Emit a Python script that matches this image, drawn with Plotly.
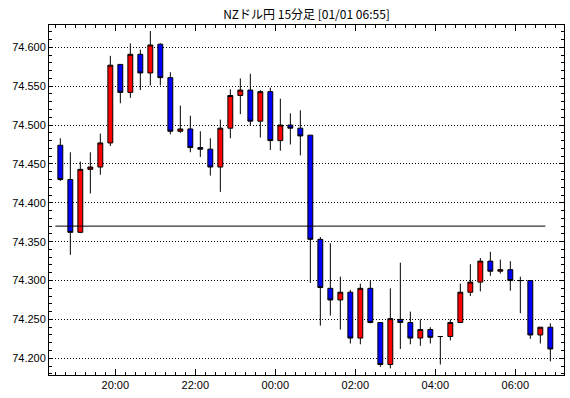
import pandas as pd
import plotly.graph_objects as go

title_text = "NZドル円 15分足 [01/01 06:55]"
first_bar = "2024-12-31 18:30"
n_bars = 50
bar_minutes = 15

open_ = [74.474, 74.430, 74.362, 74.443, 74.446, 74.477, 74.578, 74.542, 74.591, 74.567,
         74.604, 74.561, 74.492, 74.495, 74.471, 74.469, 74.446, 74.496, 74.538, 74.545,
         74.505, 74.543, 74.480, 74.500, 74.496, 74.487, 74.353, 74.290, 74.275, 74.285,
         74.226, 74.290, 74.246, 74.192, 74.250, 74.246, 74.226, 74.237, 74.228, 74.228,
         74.246, 74.285, 74.298, 74.325, 74.312, 74.314, 74.300, 74.300, 74.230, 74.240]
high = [74.483, 74.465, 74.453, 74.465, 74.489, 74.589, 74.578, 74.605, 74.597, 74.621,
        74.605, 74.568, 74.525, 74.512, 74.492, 74.483, 74.507, 74.546, 74.560, 74.566,
        74.545, 74.548, 74.534, 74.515, 74.519, 74.487, 74.356, 74.348, 74.305, 74.288,
        74.296, 74.300, 74.246, 74.290, 74.323, 74.260, 74.250, 74.240, 74.228, 74.250,
        74.296, 74.321, 74.329, 74.337, 74.327, 74.325, 74.305, 74.300, 74.240, 74.245]
low = [74.428, 74.333, 74.361, 74.412, 74.436, 74.473, 74.528, 74.535, 74.545, 74.551,
       74.551, 74.488, 74.490, 74.465, 74.459, 74.435, 74.414, 74.483, 74.514, 74.499,
       74.484, 74.468, 74.467, 74.475, 74.461, 74.297, 74.242, 74.255, 74.237, 74.219,
       74.218, 74.245, 74.189, 74.187, 74.212, 74.218, 74.216, 74.219, 74.192, 74.223,
       74.246, 74.280, 74.286, 74.306, 74.309, 74.287, 74.258, 74.225, 74.219, 74.196]
close = [74.430, 74.362, 74.443, 74.446, 74.477, 74.577, 74.542, 74.591, 74.567, 74.603,
         74.561, 74.492, 74.495, 74.471, 74.469, 74.446, 74.496, 74.538, 74.545, 74.505,
         74.543, 74.480, 74.500, 74.496, 74.486, 74.353, 74.291, 74.275, 74.285, 74.226,
         74.290, 74.246, 74.192, 74.251, 74.246, 74.226, 74.237, 74.227, 74.228, 74.246,
         74.285, 74.298, 74.325, 74.312, 74.314, 74.300, 74.300, 74.230, 74.240, 74.212]

ref_level = 74.370
y_ticks = [74.200, 74.250, 74.300, 74.350, 74.400, 74.450, 74.500, 74.550, 74.600]
x_range = ["2024-12-31 18:20:30", "2025-01-01 07:13:00"]
y_range = [74.1785, 74.6287]

bar_start = pd.date_range(first_bar, periods=n_bars, freq=f"{bar_minutes}min")
bar_mid = bar_start + pd.Timedelta(minutes=bar_minutes / 2)

fig = go.Figure()
fig.add_trace(go.Candlestick(
    x=bar_mid, open=open_, high=high, low=low, close=close,
    increasing=dict(fillcolor="#FF0000", line=dict(color="#000000", width=1)),
    decreasing=dict(fillcolor="#0000FF", line=dict(color="#000000", width=1)),
    whiskerwidth=0, hoverinfo="skip", showlegend=False,
))
fig.add_trace(go.Scatter(
    x=[bar_start[0], bar_start[-1]], y=[ref_level, ref_level], mode="lines",
    line=dict(color="#000000", width=1), hoverinfo="skip", showlegend=False,
))

tick_font = dict(family="Liberation Sans, Arial, sans-serif", size=11, color="#000000")
fig.update_layout(
    width=570, height=398, autosize=False,
    margin=dict(l=49, r=6, t=25, b=23, pad=0),
    paper_bgcolor="#FFFFFF", plot_bgcolor="#FFFFFF",
    boxgap=0.3,
    title=dict(text=title_text, x=0.5, xref="paper", xanchor="center",
               y=1 - 15 / 398, yref="container", yanchor="middle",
               font=dict(family="Noto Sans CJK JP, sans-serif", size=12, color="#000000")),
    xaxis=dict(
        type="date", range=x_range, rangeslider=dict(visible=False),
        automargin=False,
        showgrid=False, zeroline=False,
        showline=True, linecolor="#000000", linewidth=1, mirror="ticks",
        ticks="inside", ticklen=6, tickwidth=1, tickcolor="#000000",
        dtick=7200000, tick0="2000-01-01 00:00", tickformat="%H:%M",
        tickfont=tick_font,
        minor=dict(dtick=900000, tick0="2000-01-01 00:00", ticks="inside", ticklen=3,
                   tickwidth=1, tickcolor="#000000", showgrid=False),
    ),
    yaxis=dict(
        range=y_range, tickmode="array", tickvals=y_ticks,
        ticktext=[f"{v:.3f}" for v in y_ticks],
        automargin=False,
        showgrid=True, gridcolor="#000000", gridwidth=1, griddash="1px,2px",
        zeroline=False,
        showline=True, linecolor="#000000", linewidth=1, mirror="ticks",
        ticks="inside", ticklen=4, tickwidth=1, tickcolor="#000000",
        tickfont=tick_font,
        minor=dict(dtick=0.01, tick0=74.2, ticks="inside", ticklen=3,
                   tickwidth=1, tickcolor="#000000", showgrid=False),
    ),
)

fig.write_html(
    "out.html",
    config={"displayModeBar": False},
    post_script="document.body.style.margin='0';document.body.style.padding='0';",
)
